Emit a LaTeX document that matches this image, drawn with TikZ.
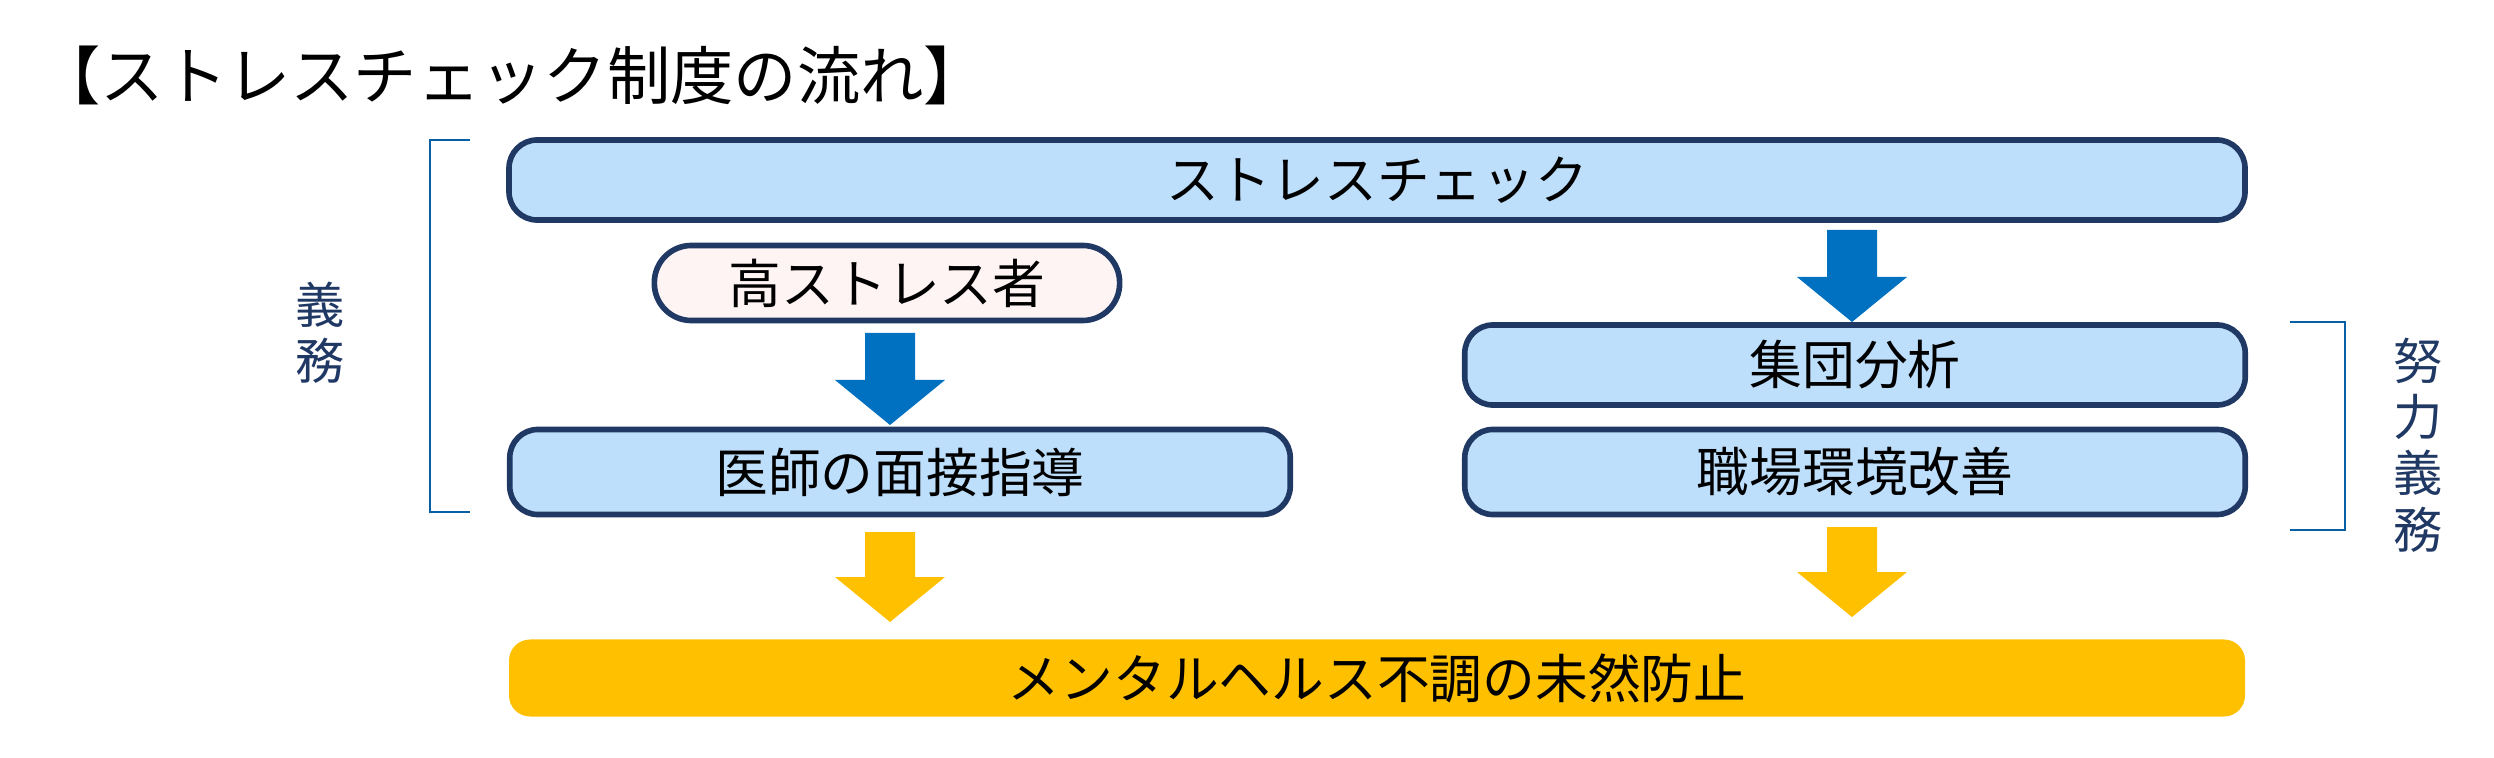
\documentclass[tikz,border=0pt]{standalone}
\usepackage{fontspec}
\setmainfont{Noto Sans CJK JP}
\definecolor{lb}{HTML}{BDDFFB}
\definecolor{nv}{HTML}{1F3864}
\definecolor{ab}{HTML}{0070C0}
\definecolor{og}{HTML}{FFC000}
\definecolor{pk}{HTML}{FFF4F4}
\begin{document}
\begin{tikzpicture}[x=0.01cm,y=-0.01cm,
 box/.style={draw=nv,line width=1.6pt,fill=lb,rounded corners=8pt,font=\fontsize{15}{15}\selectfont},
 lab/.style={text=nv,font=\fontsize{14}{16}\selectfont,align=center}]
\useasboundingbox (0,0) rectangle (2494,758);
\node[anchor=west,font=\fontsize{18}{18}\selectfont] (t) at (25,75) {【ストレスチェック制度の流れ】};
\node[box,minimum width=17.35cm,minimum height=0.8cm] (sc) at (1377,180) {ストレスチェック};
\node[box,fill=pk,rounded corners=0.37cm,minimum width=4.65cm,minimum height=0.75cm] (hs) at (887,283) {高ストレス者};
\node[box,minimum width=7.8cm,minimum height=0.85cm] (im) at (900,472) {医師の面接指導};
\node[box,minimum width=7.8cm,minimum height=0.8cm] (sb) at (1855,365) {集団分析};
\node[box,minimum width=7.8cm,minimum height=0.85cm] (sk) at (1855,472) {職場環境改善};
\node[fill=og,rounded corners=6pt,minimum width=17.35cm,minimum height=0.77cm,font=\fontsize{15}{15}\selectfont] (mh) at (1377,678) {メンタルヘルス不調の未然防止};
\newcommand{\barrow}[4]{\fill[#4] (#1-25,#2) -- (#1+25,#2) -- (#1+25,#3-45) -- (#1+55,#3-45) -- (#1,#3) -- (#1-55,#3-45) -- (#1-25,#3-45) -- cycle;}
\barrow{890}{333}{425}{ab}
\barrow{1852}{230}{322}{ab}
\barrow{890}{532}{622}{og}
\barrow{1852}{527}{617}{og}
\draw[ab!70!nv,line width=0.8pt] (470,140) -- (430,140) -- (430,512) -- (470,512);
\draw[ab!70!nv,line width=0.8pt] (2290,322) -- (2345,322) -- (2345,530) -- (2290,530);
\node[lab] (g) at (320,333) {義\\務};
\node[lab] (d) at (2418,445) {努\\力\\義\\務};
\end{tikzpicture}
\end{document}
